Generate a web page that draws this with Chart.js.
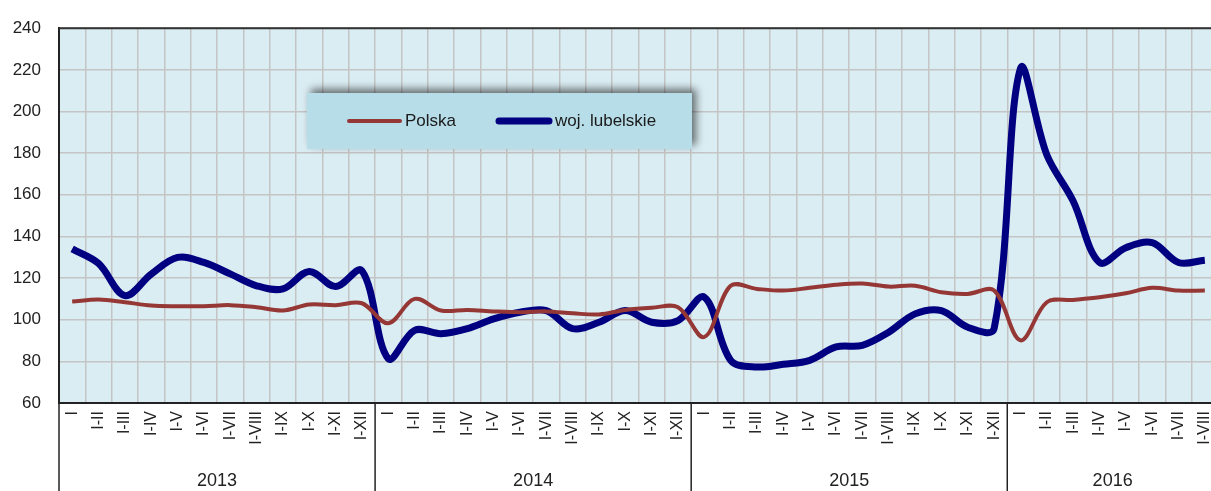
<!DOCTYPE html>
<html>
<head>
<meta charset="utf-8">
<script src="https://cdn.jsdelivr.net/npm/chart.js@4.4.0/dist/chart.umd.min.js"></script>
<style>
  html, body { margin: 0; padding: 0; background: #fff; overflow: hidden; }
  #wrap { width: 1218px; height: 491px; }
</style>
</head>
<body>
<div id="wrap"><canvas id="wykres"></canvas></div>
<script>
// miesiace narastajaco
const miesiace = ["I", "I-II", "I-III", "I-IV", "I-V", "I-VI", "I-VII", "I-VIII", "I-IX", "I-X", "I-XI", "I-XII"];
const lata = ["2013", "2014", "2015", "2016"];
const liczbaMiesiecy = [12, 12, 12, 8];

const etykiety = [];
lata.forEach((r, i) => {
    for (let m = 0; m < liczbaMiesiecy[i]; m++) etykiety.push(miesiace[m]);
});

const polska = [
    108.7, 109.7, 108.4, 106.8, 106.5, 106.5, 107.0, 106.0, 104.4, 107.3, 107.0, 107.9,
    98.3, 110.0, 104.4, 104.7, 104.0, 103.6, 104.0, 103.1, 102.5, 104.7, 105.7, 106.0,
    91.7, 116.3, 114.8, 114.0, 115.3, 116.8, 117.4, 115.9, 116.3, 113.2, 112.4, 114.0,
    90.1, 108.4, 109.5, 110.8, 112.7, 115.3, 114.0, 114.0
];
const lubelskie = [
    134.0, 127.0, 111.6, 121.9, 129.9, 127.5, 122.0, 116.3, 114.8, 123.2, 115.9, 123.5,
    81.3, 94.9, 93.3, 95.7, 100.4, 103.6, 104.4, 95.7, 98.8, 104.4, 98.8, 99.6,
    110.8, 80.5, 77.3, 78.6, 80.5, 86.9, 87.7, 94.0, 102.8, 104.4, 96.4, 95.7,
    220.6, 179.2, 157.0, 127.5, 134.6, 137.0, 127.5, 128.6
];

const kolorPolska = '#953735';
const kolorLub = '#000080';

// tlo, ramka, legenda i podpisy lat
const dodatki = {
    id: 'dodatki',
    beforeDraw(chart) {
        const a = chart.chartArea, ctx = chart.ctx;
        ctx.save();
        ctx.fillStyle = '#daedf3';
        ctx.fillRect(a.left, a.top, a.right - a.left, a.bottom - a.top);
        ctx.restore();
    },
    afterDraw(chart) {
        const a = chart.chartArea, ctx = chart.ctx;
        const x = chart.scales.x;
        const szer = x.getPixelForValue(1) - x.getPixelForValue(0);
        ctx.save();
        // gorna ramka
        ctx.strokeStyle = '#333';
        ctx.lineWidth = 2;
        ctx.beginPath();
        ctx.moveTo(a.left, a.top);
        ctx.lineTo(a.right, a.top);
        ctx.stroke();

        // separatory lat i podpisy
        ctx.strokeStyle = '#222';
        ctx.lineWidth = 1.5;
        ctx.fillStyle = '#222';
        ctx.font = '18px "Liberation Sans", Arial, sans-serif';
        ctx.textAlign = 'center';
        ctx.textBaseline = 'middle';
        let start = 0;
        lata.forEach((rok, i) => {
            const x0 = x.getPixelForValue(start) - szer / 2;
            const x1 = x.getPixelForValue(start + liczbaMiesiecy[i] - 1) + szer / 2;
            ctx.beginPath();
            ctx.moveTo(x0, a.bottom);
            ctx.lineTo(x0, chart.height);
            ctx.stroke();
            ctx.fillText(rok, (x0 + x1) / 2, 481);
            start += liczbaMiesiecy[i];
        });

        // legenda
        const lx = 307, ly = 93, lw = 385, lh = 56;
        ctx.save();
        ctx.shadowColor = 'rgba(0,0,0,0.55)';
        ctx.shadowBlur = 8;
        ctx.shadowOffsetX = 4;
        ctx.shadowOffsetY = -4;
        ctx.fillStyle = '#b7dde8';
        ctx.fillRect(lx, ly, lw, lh);
        ctx.restore();

        const sy = ly + 28;
        ctx.lineCap = 'round';
        ctx.strokeStyle = kolorPolska;
        ctx.lineWidth = 4;
        ctx.beginPath();
        ctx.moveTo(349, sy);
        ctx.lineTo(400, sy);
        ctx.stroke();
        ctx.strokeStyle = kolorLub;
        ctx.lineWidth = 7;
        ctx.beginPath();
        ctx.moveTo(499, sy);
        ctx.lineTo(549, sy);
        ctx.stroke();

        ctx.fillStyle = '#1a1a1a';
        ctx.font = '17px "Liberation Sans", Arial, sans-serif';
        ctx.textAlign = 'left';
        ctx.fillText('Polska', 405, sy);
        ctx.fillText('woj. lubelskie', 555, sy);
        ctx.restore();
    }
};

new Chart(document.getElementById('wykres'), {
    type: 'line',
    data: {
        labels: etykiety,
        datasets: [
            {
                label: 'Polska',
                data: polska,
                borderColor: kolorPolska,
                borderWidth: 4,
                pointRadius: 0,
                tension: 0.35,
                fill: false
            },
            {
                label: 'woj. lubelskie',
                data: lubelskie,
                borderColor: kolorLub,
                borderWidth: 7,
                pointRadius: 0,
                tension: 0.35,
                fill: false
            }
        ]
    },
    options: {
        responsive: true,
        maintainAspectRatio: false,
        animation: false,
        layout: { padding: { top: 26, right: 0, left: 0, bottom: 0 } },
        plugins: {
            legend: { display: false },
            tooltip: { enabled: false }
        },
        scales: {
            x: {
                offset: true,
                grid: { offset: true, color: '#c4c4c4', lineWidth: 1.5, drawTicks: false },
                border: { color: '#222', width: 2 },
                ticks: {
                    autoSkip: false,
                    maxRotation: 90,
                    minRotation: 90,
                    padding: 8,
                    color: '#222',
                    font: { family: '"Liberation Sans", Arial, sans-serif', size: 16 }
                },
                afterFit: (s) => { s.height = 88; s.paddingLeft = 0; s.paddingRight = 0; }
            },
            y: {
                min: 60,
                max: 240,
                ticks: {
                    stepSize: 20,
                    padding: 18,
                    color: '#222',
                    font: { family: '"Liberation Sans", Arial, sans-serif', size: 17 }
                },
                grid: { color: '#c4c4c4', lineWidth: 1.5, drawTicks: false },
                border: { color: '#222', width: 2 },
                afterFit: (s) => { s.width = 59; }
            }
        }
    },
    plugins: [dodatki]
});
</script>
</body>
</html>
